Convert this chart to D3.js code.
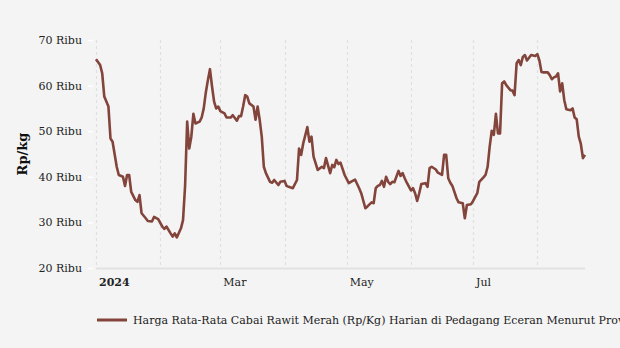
<!DOCTYPE html>
<html>
<head>
<meta charset="utf-8">
<script src="https://cdn.jsdelivr.net/npm/d3@7"></script>
<style>
  html, body { margin: 0; padding: 0; background: #f4f4f4; }
  svg { display: block; font-family: "DejaVu Serif", serif; }
</style>
</head>
<body>
<svg id="chart" width="620" height="348"></svg>
<script>
// Daily average retail price of red bird's-eye chili (Rp/kg), 2024
const dates = [
  "2024-01-01","2024-01-03","2024-01-04","2024-01-05","2024-01-07","2024-01-08","2024-01-09","2024-01-11",
  "2024-01-12","2024-01-14","2024-01-15","2024-01-16","2024-01-17","2024-01-18","2024-01-20","2024-01-21",
  "2024-01-22","2024-01-23","2024-01-25","2024-01-26","2024-01-28","2024-01-29","2024-01-31","2024-02-02",
  "2024-02-03","2024-02-04","2024-02-06","2024-02-07","2024-02-08","2024-02-09","2024-02-11","2024-02-12",
  "2024-02-13","2024-02-14","2024-02-15","2024-02-16","2024-02-17","2024-02-18","2024-02-20","2024-02-21",
  "2024-02-22","2024-02-23","2024-02-24","2024-02-25","2024-02-26","2024-02-27","2024-02-28","2024-02-29",
  "2024-03-01","2024-03-03","2024-03-04","2024-03-06","2024-03-07","2024-03-09","2024-03-10","2024-03-11",
  "2024-03-12","2024-03-13","2024-03-14","2024-03-15","2024-03-17","2024-03-18","2024-03-19","2024-03-20",
  "2024-03-21","2024-03-22","2024-03-23","2024-03-25","2024-03-26","2024-03-27","2024-03-29","2024-03-30",
  "2024-04-01","2024-04-02","2024-04-03","2024-04-05","2024-04-07","2024-04-08","2024-04-09","2024-04-10",
  "2024-04-12","2024-04-13","2024-04-14","2024-04-15","2024-04-17","2024-04-19","2024-04-20","2024-04-21",
  "2024-04-23","2024-04-24","2024-04-25","2024-04-26","2024-04-27","2024-04-28","2024-04-30","2024-05-02",
  "2024-05-03","2024-05-05","2024-05-07","2024-05-08","2024-05-10","2024-05-11","2024-05-13","2024-05-14",
  "2024-05-15","2024-05-16","2024-05-17","2024-05-18","2024-05-19","2024-05-20","2024-05-21","2024-05-22",
  "2024-05-23","2024-05-24","2024-05-26","2024-05-27","2024-05-28","2024-05-29","2024-05-30","2024-06-01",
  "2024-06-02","2024-06-03","2024-06-04","2024-06-05","2024-06-06","2024-06-08","2024-06-09","2024-06-10",
  "2024-06-11","2024-06-13","2024-06-14","2024-06-16","2024-06-17","2024-06-18","2024-06-19","2024-06-20",
  "2024-06-21","2024-06-23","2024-06-24","2024-06-26","2024-06-27","2024-06-28","2024-06-30","2024-07-01",
  "2024-07-03","2024-07-04","2024-07-06","2024-07-07","2024-07-08","2024-07-09","2024-07-10","2024-07-11",
  "2024-07-12","2024-07-13","2024-07-14","2024-07-15","2024-07-16","2024-07-17","2024-07-19","2024-07-20",
  "2024-07-21","2024-07-22","2024-07-23","2024-07-24","2024-07-25","2024-07-26","2024-07-27","2024-07-29",
  "2024-07-31","2024-08-01","2024-08-02","2024-08-03","2024-08-04","2024-08-06","2024-08-07","2024-08-08",
  "2024-08-09","2024-08-10","2024-08-11","2024-08-12","2024-08-13","2024-08-14","2024-08-15","2024-08-17",
  "2024-08-18","2024-08-19","2024-08-20","2024-08-21","2024-08-22","2024-08-23","2024-08-24"
];

const prices = [
  65800, 64500, 62700, 57600, 55400, 48400, 47700, 42200,
  40400, 40000, 38000, 40400, 40400, 36700, 34900, 34500,
  36000, 32000, 30900, 30300, 30200, 31200, 30700, 29100,
  28600, 29100, 27600, 26900, 27600, 26700, 28700, 30500,
  38000, 52100, 46200, 48800, 53800, 51700, 52100, 53000,
  55000, 58500, 61200, 63600, 59800, 56500, 55000, 55400,
  54400, 53900, 53000, 53000, 53500, 52300, 53300, 53300,
  55400, 57900, 57600, 56100, 55400, 52500, 55400, 52500,
  48800, 42200, 40800, 38900, 38700, 39300, 38200, 38900,
  39100, 38000, 37800, 37500, 39300, 46200, 44800, 47300,
  50900, 47700, 48800, 44400, 41500, 42200, 41900, 44100,
  40800, 42600, 42100, 43700, 42800, 43100, 40400, 38600,
  38900, 39400, 37500, 36400, 33100, 33500, 34400, 34200,
  37500, 38000, 38200, 39100, 37800, 40000, 38900, 38400,
  38900, 38800, 41300, 40200, 40800, 39700, 38700, 37000,
  37500, 36400, 34700, 36400, 38400, 38600, 37800, 41900,
  42200, 41600, 40900, 40400, 44800, 44800, 39700, 38700,
  38000, 35300, 34400, 34200, 30900, 33800, 34000, 34700,
  36400, 38900, 39900, 40400, 42200, 46600, 50100, 49200,
  53800, 49500, 49500, 60500, 60900, 60100, 59000, 58900,
  57900, 64900, 65600, 64500, 66300, 66700, 65500, 66700,
  66500, 66900, 65500, 63000, 62900, 62900, 62300, 61400,
  61800, 62000, 62700, 58700, 60500, 56800, 54800, 54600,
  55000, 53000, 52600, 48800, 47200, 44100, 44800
];

const yTicks = [20000, 30000, 40000, 50000, 60000, 70000];
const xTickLabels = ["2024", "Mar", "May", "Jul"];
const seriesName = "Harga Rata-Rata Cabai Rawit Merah (Rp/Kg) Harian di Pedagang Eceran Menurut Provinsi";
const yTitle = "Rp/kg";

const parse = d3.timeParse("%Y-%m-%d");
const data = dates.map((d, i) => ({ date: parse(d), value: prices[i] }));

const svg = d3.select("#chart");
const plotLeft = 96, plotRight = 585, plotTop = 40, plotBottom = 268;

const x = d3.scaleTime()
  .domain([parse("2024-01-01"), parse(dates[dates.length - 1])])
  .range([plotLeft, plotRight]);

const y = d3.scaleLinear()
  .domain([20000, 70000])
  .range([plotBottom, plotTop]);

// monthly vertical grid (dotted)
const months = d3.timeMonth.range(parse("2024-01-01"), parse("2024-08-25"));
svg.append("g")
  .selectAll("line")
  .data(months)
  .join("line")
  .attr("x1", d => Math.round(x(d)) + 0.5)
  .attr("x2", d => Math.round(x(d)) + 0.5)
  .attr("y1", plotTop)
  .attr("y2", plotBottom)
  .attr("stroke", "#e0e0e0")
  .attr("stroke-width", 1.2)
  .attr("stroke-dasharray", "3,3");

// x axis baseline
svg.append("line")
  .attr("x1", plotLeft).attr("x2", plotRight)
  .attr("y1", plotBottom + 0.5).attr("y2", plotBottom + 0.5)
  .attr("stroke", "#e2e2e2")
  .attr("stroke-width", 2);

// x tick labels every two months
const labelMonths = d3.timeMonth.every(2).range(parse("2024-01-01"), parse("2024-08-01"));
svg.append("g")
  .selectAll("text")
  .data(labelMonths)
  .join("text")
  .attr("x", d => x(d) + 3)
  .attr("y", 286)
  .attr("font-size", 11)
  .attr("font-weight", (d, i) => i === 0 ? "bold" : "normal")
  .attr("fill", "#222")
  .text((d, i) => xTickLabels[i]);

// y axis
const yAxis = d3.axisLeft(y)
  .tickValues(yTicks)
  .tickSize(5)
  .tickPadding(6)
  .tickFormat(d => (d / 1000) + " Ribu");

const yg = svg.append("g")
  .attr("transform", `translate(${plotLeft - 3},0)`)
  .call(yAxis);
yg.select(".domain").remove();
yg.selectAll(".tick line").attr("stroke", "#ffffff").attr("stroke-width", 1.5);
yg.selectAll(".tick text")
  .attr("font-family", "DejaVu Serif, serif")
  .attr("font-size", 11)
  .attr("fill", "#222");

// y axis title
svg.append("text")
  .attr("transform", "translate(27,154) rotate(-90)")
  .attr("text-anchor", "middle")
  .attr("font-size", 13)
  .attr("font-weight", "bold")
  .attr("fill", "#111")
  .text(yTitle);

// price line
const line = d3.line()
  .x(d => x(d.date))
  .y(d => y(d.value))
  .curve(d3.curveLinear);

svg.append("path")
  .datum(data)
  .attr("d", line)
  .attr("fill", "none")
  .attr("stroke", "#83443b")
  .attr("stroke-width", 2.6)
  .attr("stroke-linejoin", "round");

// legend
const lg = svg.append("g").attr("transform", "translate(97,320)");
lg.append("line")
  .attr("x1", 0).attr("x2", 30)
  .attr("y1", 0).attr("y2", 0)
  .attr("stroke", "#83443b")
  .attr("stroke-width", 3);
lg.append("text")
  .attr("x", 36)
  .attr("y", 4)
  .attr("font-size", 11)
  .attr("fill", "#222")
  .text(seriesName);
</script>
</body>
</html>
